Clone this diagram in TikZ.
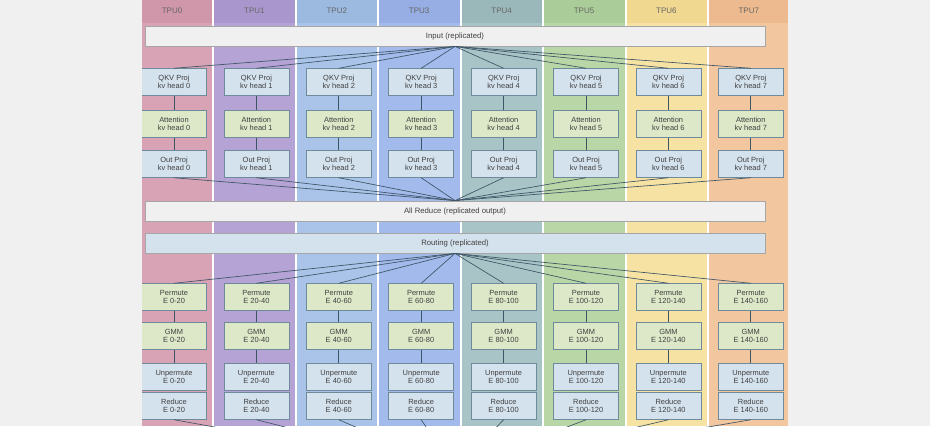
\documentclass[tikz,border=0pt]{standalone}
\usepackage{fontspec}
\setmainfont{Liberation Sans}
\begin{document}
\definecolor{c0}{HTML}{D9A3B6}\definecolor{h0}{HTML}{D096AA}
\definecolor{c1}{HTML}{B5A3D6}\definecolor{h1}{HTML}{A996CC}
\definecolor{c2}{HTML}{A9C4E8}\definecolor{h2}{HTML}{9CB9E0}
\definecolor{c3}{HTML}{A3BAEC}\definecolor{h3}{HTML}{96AEE4}
\definecolor{c4}{HTML}{A9C4C6}\definecolor{h4}{HTML}{9AB8BA}
\definecolor{c5}{HTML}{B8D6A6}\definecolor{h5}{HTML}{AACC98}
\definecolor{c6}{HTML}{F6E3A4}\definecolor{h6}{HTML}{F0D890}
\definecolor{c7}{HTML}{F2C7A0}\definecolor{h7}{HTML}{ECBA8E}
\definecolor{bluebox}{HTML}{D4E2EE}\definecolor{greenbox}{HTML}{DDE8C8}
\definecolor{edge}{HTML}{6F8A9A}\definecolor{wire}{HTML}{3E5566}
\begin{tikzpicture}[x=0.75pt,y=-0.75pt,
  box/.style={draw=edge,line width=0.6pt,minimum width=48.75pt,minimum height=20pt,inner sep=0.5pt,align=center,font=\fontsize{5.6}{6.4}\selectfont,text=black!75},
  qb/.style={box,fill=bluebox},
  gb/.style={box,fill=greenbox},
  bar/.style={draw=black!35,line width=0.6pt,minimum width=465pt,minimum height=15pt,inner sep=0pt,font=\fontsize{5.8}{7}\selectfont,text=black!75},
  wl/.style={draw=wire,line width=0.5pt},
  hdr/.style={font=\fontsize{6}{7}\selectfont,text=black!60}]
\useasboundingbox (0,0) rectangle (930,426);
\fill[black!6] (0,0) rectangle (930,426);
\begin{scope}
\clip (142,0) rectangle (788,426);
\foreach \i/\l/\r in {0/142/213,1/213/296,2/296/378,3/378/461,4/461/543,5/543/626,6/626/708,7/708/788}{
  \fill[c\i] (\l,0) rectangle (\r,426);
  \fill[h\i] (\l,0) rectangle (\r,23);
}
\foreach \x in {213,296,378,461,543,626,708}
  \draw[white,line width=1.2pt] (\x,0) -- (\x,426);
\foreach \i in {0,...,7}{
  \pgfmathsetmacro\cx{172+82.4*\i}
  \node[hdr] (t\i) at (\cx,11) {TPU\i};
}
\node[bar,fill=black!6] (inp) at (455,36) {Input (replicated)};
\node[bar,fill=black!6] (ar) at (455,211) {All Reduce (replicated output)};
\node[bar,fill=bluebox] (rt) at (455,243) {Routing (replicated)};
\foreach \i/\a/\b in {0/0/20,1/20/40,2/40/60,3/60/80,4/80/100,5/100/120,6/120/140,7/140/160}{
  \pgfmathsetmacro\cx{174+82.4*\i}
  \node[qb] (q\i) at (\cx,82) {QKV Proj\\kv head \i};
  \node[gb] (a\i) at (\cx,124) {Attention\\kv head \i};
  \node[qb] (o\i) at (\cx,164) {Out Proj\\kv head \i};
  \node[gb] (p\i) at (\cx,297) {Permute\\E \a-\b};
  \node[gb] (g\i) at (\cx,336) {GMM\\E \a-\b};
  \node[qb] (u\i) at (\cx,377) {Unpermute\\E \a-\b};
  \node[qb] (r\i) at (\cx,406) {Reduce\\E \a-\b};
  \draw[wl] (q\i) -- (a\i); \draw[wl] (a\i) -- (o\i);
  \draw[wl] (p\i) -- (g\i); \draw[wl] (g\i) -- (u\i);
  \draw[wl] (inp.south) -- (q\i.north);
  \draw[wl] (o\i.south) -- (ar.north);
  \draw[wl] (rt.south) -- (p\i.north);
  \coordinate (bot\i) at (455,470);
  \draw[wl] (r\i.south) -- (bot\i);
}
\end{scope}
\end{tikzpicture}
\end{document}
